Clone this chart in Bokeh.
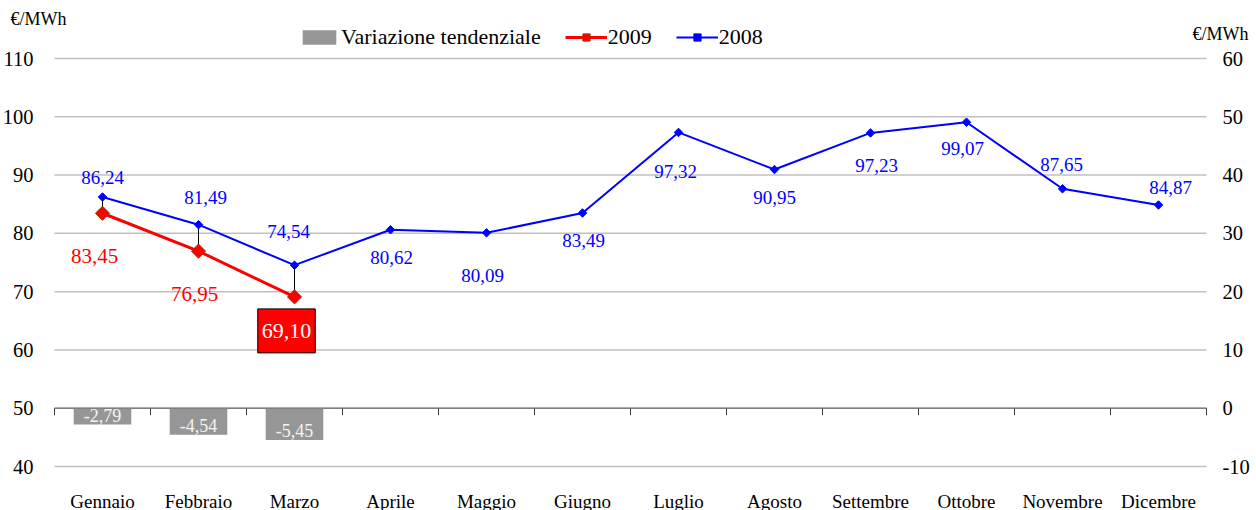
import math
from bokeh.plotting import figure
from bokeh.models import (Range1d, LinearAxis, FixedTicker, ColumnDataSource,
                          Legend, LegendItem, Label)
from bokeh.core.properties import value
from bokeh.embed import file_html
from bokeh.resources import INLINE

# ---------------- data ----------------
months = ["Gennaio", "Febbraio", "Marzo", "Aprile", "Maggio", "Giugno",
          "Luglio", "Agosto", "Settembre", "Ottobre", "Novembre", "Dicembre"]
price_2008 = [86.24, 81.49, 74.54, 80.62, 80.09, 83.49,
              97.32, 90.95, 97.23, 99.07, 87.65, 84.87]
price_2009 = [83.45, 76.95, 69.10]
variazione = [-2.79, -4.54, -5.45]
left_ticks = [40, 50, 60, 70, 80, 90, 100, 110]
right_ticks = [-10, 0, 10, 20, 30, 40, 50, 60]
unit = "€/MWh"

# ---------------- layout / style ----------------
W, H = 1256, 510
PL, PR, PT, PB = 54, 50, 58, 44          # plot-area margins in px
FONT = "Liberation Serif"

# label placement (pixel offsets, style only)
dx_2008 = [0, 7, -6, 1, -4, 1, -3, 0, 6, -4, -1, 12]
dy_2008 = [-19, -27, -34, 28, 43, 27, 39, 28, 33, 26, -24, -17]
dx_2009 = [-8, -4, -8]
dy_2009 = [43, 43, 34]

def fmt(v):
    return f"{v:.2f}".replace(".", ",")

n = len(months)
xc = [i + 0.5 for i in range(n)]
n9 = len(price_2009)

# the frame covers the whole canvas; ranges extended so the plot area sits
# where the reference has it
xs = (W - PL - PR) / n
ys = (H - PT - PB) / (left_ticks[-1] - left_ticks[0])
x_range = Range1d(-PL / xs, n + PR / xs)
y_range = Range1d(left_ticks[0] - PB / ys, left_ticks[-1] + PT / ys)
r_range = Range1d(right_ticks[0] - PB / ys, right_ticks[-1] + PT / ys)

p = figure(width=W, height=H, output_backend="svg", toolbar_location=None,
           x_range=x_range, y_range=y_range, min_border=0)
p.title.visible = False
p.outline_line_color = None
p.background_fill_color = "white"
p.border_fill_color = "white"
p.extra_y_ranges = {"right": r_range}
p.xgrid.visible = False
p.ygrid.visible = False

# horizontal gridlines across the plot area only
p.segment(x0=[0] * len(left_ticks), y0=left_ticks, x1=[n] * len(left_ticks),
          y1=left_ticks, line_color="#c0c0c0", line_width=1.5)

# left axis
ya = p.yaxis[0]
ya.fixed_location = 0
ya.ticker = FixedTicker(ticks=left_ticks)
ya.axis_line_color = None
ya.major_tick_line_color = None
ya.minor_tick_line_color = None
ya.major_label_standoff = 15
ya.major_label_text_font = FONT
ya.major_label_text_font_size = "20.5px"
ya.major_label_text_color = "black"

# right axis
ra = LinearAxis(y_range_name="right", ticker=FixedTicker(ticks=right_ticks),
                fixed_location=n)
ra.major_label_overrides = {t: str(t) for t in right_ticks}
ra.axis_line_color = None
ra.major_tick_line_color = None
ra.minor_tick_line_color = None
ra.major_label_standoff = 10
ra.major_label_text_font = FONT
ra.major_label_text_font_size = "20.5px"
ra.major_label_text_color = "black"
p.add_layout(ra, "right")

# x axis (category labels)
xa = p.xaxis[0]
xa.fixed_location = left_ticks[0]
xa.ticker = FixedTicker(ticks=xc)
xa.major_label_overrides = {x: m for x, m in zip(xc, months)}
xa.axis_line_color = None
xa.major_tick_line_color = None
xa.minor_tick_line_color = None
xa.major_label_standoff = 18
xa.major_label_text_font = FONT
xa.major_label_text_font_size = "19px"
xa.major_label_text_color = "black"

# bars (right axis)
bsrc = ColumnDataSource(dict(x=xc[:len(variazione)], top=[0] * len(variazione),
                             bottom=variazione,
                             lab=[fmt(v) for v in variazione]))
bars = p.vbar(x="x", top="top", bottom="bottom", width=0.6, source=bsrc,
              fill_color="#969696", line_color=None, y_range_name="right")
p.text(x="x", y="bottom", text="lab", source=bsrc, y_range_name="right",
       text_align="center", text_baseline="middle", y_offset=-9,
       text_color="#f4f4f4", text_font=value(FONT), text_font_size="18px")

# category axis line at 0 (right scale) with boundary ticks
bounds = list(range(n + 1))
p.segment(x0=[0], y0=[0], x1=[n], y1=[0], y_range_name="right",
          line_color="#7f7f7f", line_width=1.5)
p.segment(x0=bounds, y0=[0] * len(bounds), x1=bounds,
          y1=[-7 / ys] * len(bounds),
          y_range_name="right", line_color="#404040", line_width=1)

# high-low lines
p.segment(x0=xc[:n9], y0=price_2009, x1=xc[:n9], y1=price_2008[:n9],
          line_color="black", line_width=1)

# 2008 series
s8 = ColumnDataSource(dict(x=xc, y=price_2008, lab=[fmt(v) for v in price_2008],
                           dx=dx_2008, dy=dy_2008))
l8 = p.line("x", "y", source=s8, line_color="#0000ff", line_width=2)
m8 = p.scatter("x", "y", source=s8, marker="square", size=6, angle=math.pi / 4,
               fill_color="#0000ff", line_color="#0000ff")
p.text(x="x", y="y", text="lab", source=s8, x_offset="dx", y_offset="dy",
       text_align="center", text_baseline="middle", text_color="#0000ff",
       text_font=value(FONT), text_font_size="19px")

# 2009 series
s9 = ColumnDataSource(dict(x=xc[:n9], y=price_2009, lab=[fmt(v) for v in price_2009],
                           dx=dx_2009, dy=dy_2009))
l9 = p.line("x", "y", source=s9, line_color="#ff0000", line_width=3)
m9 = p.scatter("x", "y", source=s9, marker="square", size=10, angle=math.pi / 4,
               fill_color="#ff0000", line_color="#993300", line_width=1)
s9a = ColumnDataSource(dict(x=xc[:n9 - 1], y=price_2009[:-1],
                            lab=[fmt(v) for v in price_2009[:-1]],
                            dx=dx_2009[:-1], dy=dy_2009[:-1]))
p.text(x="x", y="y", text="lab", source=s9a, x_offset="dx", y_offset="dy",
       text_align="center", text_baseline="middle", text_color="#ff0000",
       text_font=value(FONT), text_font_size="21px")
s9b = ColumnDataSource(dict(x=xc[n9 - 1:n9], y=price_2009[-1:],
                            lab=[fmt(price_2009[-1])],
                            dx=dx_2009[-1:], dy=dy_2009[-1:]))
p.text(x="x", y="y", text="lab", source=s9b, x_offset="dx", y_offset="dy",
       text_align="center", text_baseline="middle", text_color="white",
       text_font=value(FONT), text_font_size="22px",
       background_fill_color="#ff0000", border_line_color="black",
       border_line_width=1, padding=(4, 15))

# unit labels
p.add_layout(Label(x=-44 / xs, y=left_ticks[-1] + 40 / ys, text=unit,
                   text_font=FONT, text_font_size="18px",
                   text_baseline="middle", text_color="black"))
p.add_layout(Label(x=n + 42 / xs, y=right_ticks[-1] + 25 / ys,
                   y_range_name="right", text=unit,
                   text_font=FONT, text_font_size="18px", text_baseline="middle",
                   text_align="right", text_color="black"))

# legend
legend = Legend(items=[
    LegendItem(label="Variazione tendenziale", renderers=[bars]),
    LegendItem(label="2009", renderers=[l9, m9]),
    LegendItem(label="2008", renderers=[l8, m8]),
], orientation="horizontal", location=(298, 460))
legend.background_fill_alpha = 0
legend.border_line_color = None
legend.padding = 0
legend.margin = 0
legend.spacing = 24
legend.glyph_width = 42
legend.glyph_height = 18
legend.label_height = 18
legend.label_standoff = 1
legend.label_text_font = FONT
legend.label_text_font_size = "22px"
legend.label_text_color = "black"
legend.label_text_baseline = "middle"
p.add_layout(legend, "center")

open("out.html", "w").write(file_html(p, INLINE))
